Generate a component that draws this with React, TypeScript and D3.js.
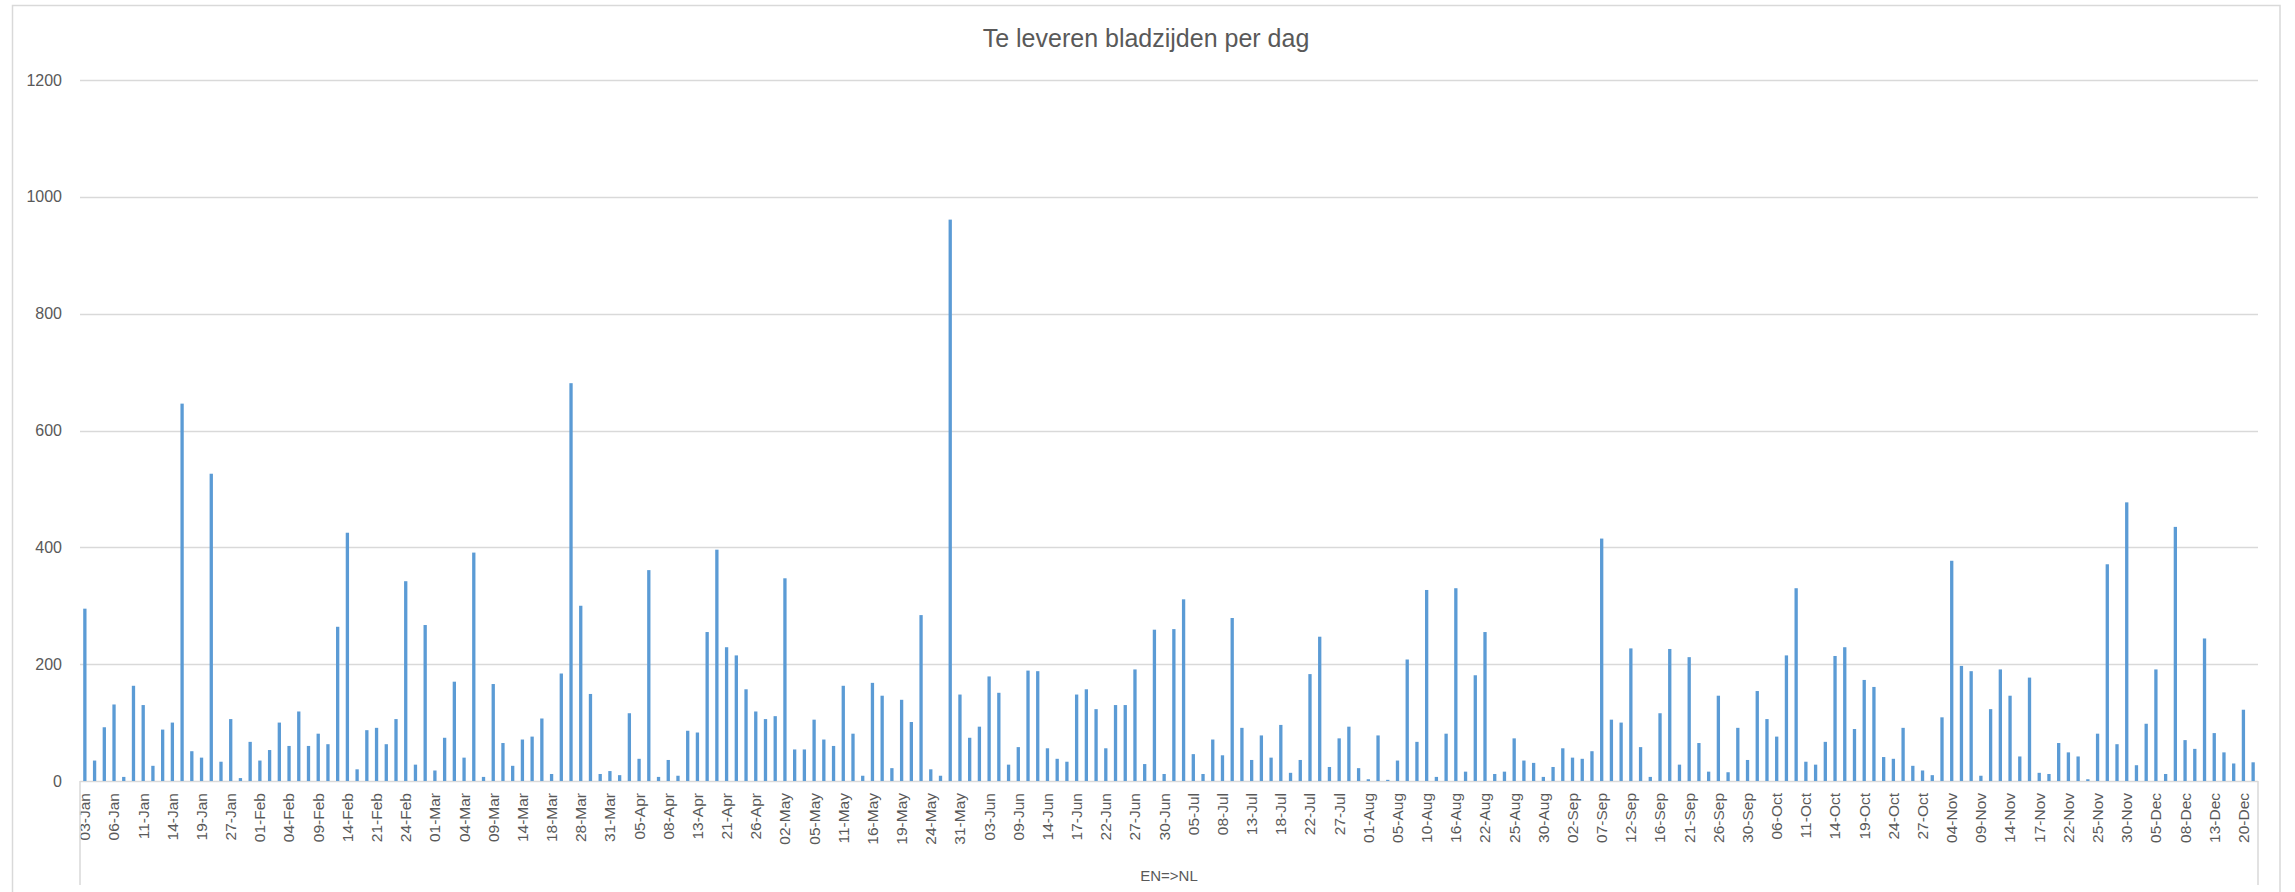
import React, { useRef, useEffect } from "react";
import * as d3 from "d3";

// one value per day (224 bars)
const pages: number[] = [
    295, 35, 92, 131, 7, 163, 130, 26, 88, 100, 646, 51, 40, 526, 33, 106, 5, 67, 35, 53,
    100, 60, 119, 60, 81, 63, 264, 425, 20, 87, 91, 63, 106, 342, 28, 267, 18,
    74, 170, 40, 391, 7, 166, 65, 26, 71, 76, 107, 12, 184, 681, 300, 149, 12, 17, 10,
    116, 38, 361, 7, 36, 9, 86, 83, 255, 396, 229, 215, 157, 119, 106, 111, 347, 54,
    54, 105, 71, 60, 163, 81, 9, 168, 146, 22, 139, 101, 284, 20, 9, 961, 148, 74, 93,
    179, 151, 28, 58, 189, 188, 56, 38, 33, 148, 157, 123, 56, 130, 130, 191, 29, 259,
    12, 260, 311, 46, 12, 71, 44, 279, 91, 36, 78, 40, 96, 14, 36, 183, 247, 24, 73, 93,
    22, 3, 78, 2, 35, 208, 67, 327, 7, 81, 330, 16, 181, 255, 12, 16, 73,
    35, 31, 7, 24, 56, 40, 38, 51, 415, 105, 100, 227, 58, 7, 116, 226, 28, 212, 65, 16,
    146, 15, 91, 36, 154, 106, 76, 215, 330, 33, 28, 67, 214, 229, 89, 173, 161,
    41, 38, 91, 26, 18, 10, 109, 377, 197, 188, 9, 123, 191, 146, 42, 177, 14, 12, 65,
    49, 42, 3, 81, 371, 63, 477, 27, 98, 191, 12, 435, 70, 55, 244, 82, 49, 30, 122, 32,
];

// only every third day carries a label on the axis
const dayLabels: string[] = [
    "03-Jan", "06-Jan", "11-Jan", "14-Jan", "19-Jan", "27-Jan", "01-Feb", "04-Feb", "09-Feb",
    "14-Feb", "21-Feb", "24-Feb", "01-Mar", "04-Mar", "09-Mar", "14-Mar", "18-Mar", "28-Mar",
    "31-Mar", "05-Apr", "08-Apr", "13-Apr", "21-Apr", "26-Apr", "02-May", "05-May", "11-May",
    "16-May", "19-May", "24-May", "31-May", "03-Jun", "09-Jun", "14-Jun", "17-Jun", "22-Jun",
    "27-Jun", "30-Jun", "05-Jul", "08-Jul", "13-Jul", "18-Jul", "22-Jul", "27-Jul", "01-Aug",
    "05-Aug", "10-Aug", "16-Aug", "22-Aug", "25-Aug", "30-Aug", "02-Sep", "07-Sep", "12-Sep",
    "16-Sep", "21-Sep", "26-Sep", "30-Sep", "06-Oct", "11-Oct", "14-Oct", "19-Oct", "24-Oct",
    "27-Oct", "04-Nov", "09-Nov", "14-Nov", "17-Nov", "22-Nov", "25-Nov", "30-Nov", "05-Dec",
    "08-Dec", "13-Dec", "20-Dec",
];

const yTicks: number[] = [0, 200, 400, 600, 800, 1000, 1200];
const groupLabel = "EN=>NL";
const title = "Te leveren bladzijden per dag";

const W = 2295;
const H = 892;
const FONT = "'Liberation Sans', Arial, sans-serif";
const TEXT = "#595959";
const GRID = "#d9d9d9";
const BAR = "#5b9bd5";

const App: React.FC = () => {
    const ref = useRef<SVGSVGElement | null>(null);

    useEffect(() => {
        if (!ref.current) return;
        const svg = d3.select(ref.current);
        svg.selectAll("*").remove();

        const margin = { top: 80, right: 37, bottom: 111, left: 80 };
        const plotBottom = H - margin.bottom;

        const x = d3
            .scaleBand<number>()
            .domain(d3.range(pages.length))
            .range([margin.left, W - margin.right])
            .padding(0);

        const y = d3
            .scaleLinear()
            .domain([0, 1200])
            .range([plotBottom, margin.top]);

        // chart border
        svg
            .append("rect")
            .attr("x", 12.5)
            .attr("y", 5.5)
            .attr("width", 2280 - 12.5)
            .attr("height", H + 20)
            .attr("fill", "#fff")
            .attr("stroke", GRID)
            .attr("stroke-width", 1.5);

        // title sits a bit left of the plot centre in the original
        svg
            .append("text")
            .attr("x", 1146)
            .attr("y", 47)
            .attr("text-anchor", "middle")
            .attr("font-family", FONT)
            .attr("font-size", 25)
            .attr("fill", TEXT)
            .text(title);

        // gridlines + y labels
        const yg = svg.append("g");
        yg.selectAll("line")
            .data(yTicks)
            .enter()
            .append("line")
            .attr("x1", margin.left)
            .attr("x2", W - margin.right)
            .attr("y1", d => Math.round(y(d)) + 0.5)
            .attr("y2", d => Math.round(y(d)) + 0.5)
            .attr("stroke", GRID)
            .attr("stroke-width", 1.5);
        yg.selectAll("text")
            .data(yTicks)
            .enter()
            .append("text")
            .attr("x", 62)
            .attr("y", d => y(d))
            .attr("dy", "0.35em")
            .attr("text-anchor", "end")
            .attr("font-family", FONT)
            .attr("font-size", 16)
            .attr("fill", TEXT)
            .text(d => d);

        // bars
        const bw = x.bandwidth() * 0.34;
        svg
            .append("g")
            .attr("fill", BAR)
            .selectAll("rect")
            .data(pages)
            .enter()
            .append("rect")
            .attr("x", (_, i) => x(i)! + x.bandwidth() / 2 - bw / 2)
            .attr("y", d => y(d))
            .attr("width", bw)
            .attr("height", d => y(0) - y(d));

        // category axis: day labels + group box
        const xg = svg.append("g");
        xg.selectAll("text")
            .data(pages.map((_, i) => i).filter(i => i % 3 === 0))
            .enter()
            .append("text")
            .attr("transform", i => `translate(${x(i)! + x.bandwidth() / 2},${plotBottom + 12}) rotate(-90)`)
            .attr("dy", "0.35em")
            .attr("text-anchor", "end")
            .attr("font-family", FONT)
            .attr("font-size", 15.5)
            .attr("fill", TEXT)
            .text(i => dayLabels[i / 3]);

        [margin.left, W - margin.right].forEach(px => {
            xg.append("line")
                .attr("x1", px)
                .attr("x2", px)
                .attr("y1", plotBottom)
                .attr("y2", 885)
                .attr("stroke", GRID)
                .attr("stroke-width", 1.5);
        });

        xg.append("text")
            .attr("x", (margin.left + W - margin.right) / 2)
            .attr("y", 881)
            .attr("text-anchor", "middle")
            .attr("font-family", FONT)
            .attr("font-size", 15)
            .attr("fill", TEXT)
            .text(groupLabel);
    }, []);

    return (
        <svg
            ref={ref}
            width={W}
            height={H}
            style={{ position: "absolute", left: 0, top: 0, background: "#fff" }}
        />
    );
};

export default App;
